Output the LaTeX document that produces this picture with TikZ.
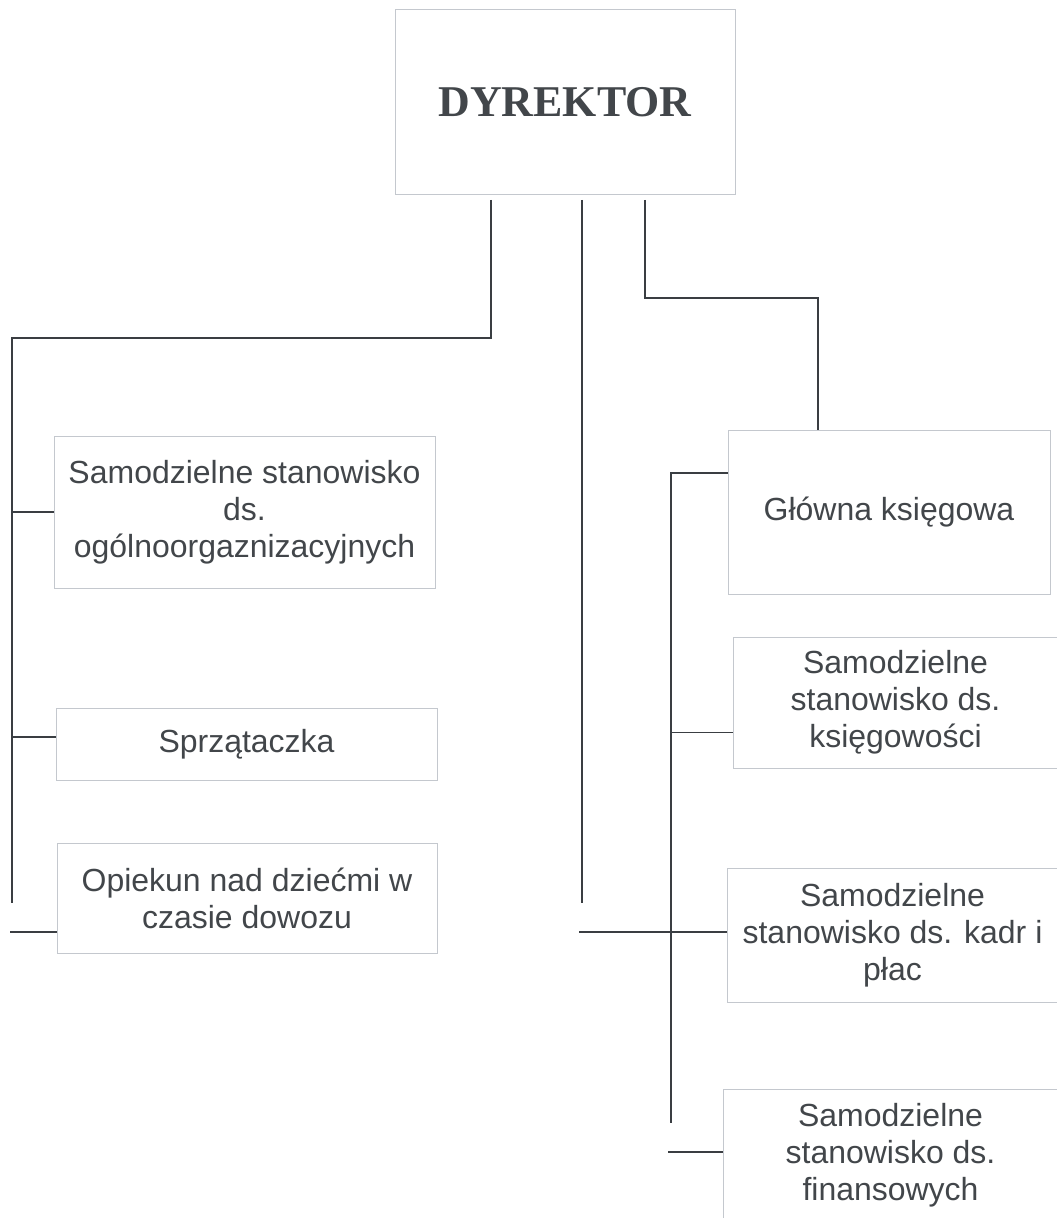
\documentclass[tikz,border=0pt]{standalone}
\usepackage{fontspec}
\setmainfont{Liberation Sans}
\newfontfamily\headfont{Liberation Serif}
\usepackage{tikz}
\usetikzlibrary{positioning}
\usepackage{xcolor}
\definecolor{orgline}{RGB}{58,62,66}
\definecolor{orgframe}{RGB}{196,200,206}
\definecolor{orgtext}{RGB}{66,70,74}
\tikzstyle{link} = [line width=1.1pt, color=orgline]

\begin{document}
\begin{tikzpicture}[x=0.2mm, y=-0.2mm,
    post/.style={rectangle, draw=orgframe, line width=0.5pt, text=orgtext, align=center, inner sep=0pt, font=\fontsize{18.2}{21}\selectfont},
    head/.style={rectangle, draw=orgframe, line width=0.5pt, text=orgtext, inner sep=0pt, font=\headfont\bfseries\fontsize{25}{30}\selectfont}]

\useasboundingbox (0,0) rectangle (1056,1218);

% Director
\node[head, minimum width=6.8cm, minimum height=3.7cm] (dyr) at (565,102) {DYREKTOR};

% Left column
\node[post, minimum width=7.62cm, minimum height=3.04cm] (ogol) at (244.5,512) {Samodzielne stanowisko\\ds.\\ogólnoorgaznizacyjnych};
\node[post, minimum width=7.62cm, minimum height=1.44cm] (sprz) at (246.5,744) {Sprzątaczka};
\node[post, minimum width=7.6cm, minimum height=2.2cm] (opiek) at (247,898) {Opiekun nad dziećmi w\\czasie dowozu};

% Right column
\node[post, minimum width=6.44cm, minimum height=3.28cm] (glow) at (889,512) {Główna księgowa};
\node[post, minimum width=6.5cm, minimum height=2.62cm] (ksieg) at (895.5,702.5) {Samodzielne\\stanowisko ds.\\księgowości};
\node[post, minimum width=6.62cm, minimum height=2.68cm] (kadr) at (892.5,935) {Samodzielne\\stanowisko ds. kadr i\\płac};
\node[post, minimum width=6.7cm, minimum height=2.66cm] (fin) at (890.5,1155.5) {Samodzielne\\stanowisko ds.\\finansowych};

% Director to left column
\coordinate (lx) at (491,338);
\coordinate (lbus) at (12,338);
\coordinate (lend) at (12,903);
\draw[link, shorten <=1mm] (dyr.south -| lx) -- (lx) -- (lbus) -- (lend);
\draw[link] (lbus |- ogol.west) -- (ogol.west);
\draw[link] ([yshift=1.4mm]lbus |- sprz.west) -- ([yshift=1.4mm]sprz.west);
\coordinate (ostub) at (10,932);
\draw[link] (ostub) -- (ostub -| opiek.west);

% Director to kadry
\coordinate (mx) at (582,903);
\draw[link, shorten <=1mm] (dyr.south -| mx) -- (mx);
\coordinate (mstub) at (579,932);
\draw[link] (mstub) -- (mstub -| kadr.west);

% Director to main accountant
\coordinate (rx) at (645,298);
\coordinate (rturn) at (818,298);
\draw[link, shorten <=1mm] (dyr.south -| rx) -- (rx) -- (rturn) -- (rturn |- glow.north);

% Main accountant branch
\coordinate (gbus) at (671,473);
\coordinate (gend) at (671,1123);
\draw[link] (gbus -| glow.west) -- (gbus) -- (gend);
\draw[link] ([yshift=-6mm]gbus |- ksieg.west) -- ([yshift=-6mm]ksieg.west);
\coordinate (fstub) at (668,1152);
\draw[link] (fstub) -- (fstub -| fin.west);

\end{tikzpicture}
\end{document}
